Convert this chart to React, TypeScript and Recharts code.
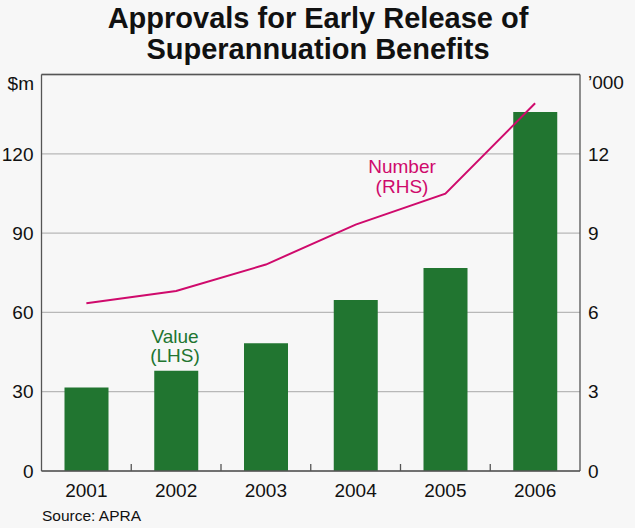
import { ComposedChart, Bar, Line, XAxis, YAxis, CartesianGrid, ReferenceLine } from "recharts";

const years = ["2001", "2002", "2003", "2004", "2005", "2006"];
const valueLhs = [31.6, 37.9, 48.3, 64.7, 76.8, 135.8]; // $m
const numberRhs = [6.35, 6.81, 7.81, 9.32, 10.49, 13.91]; // '000
const leftTicks = [0, 30, 60, 90, 120];
const rightTicks = [0, 3, 6, 9, 12];

const W = 635;
const H = 528;
const LEFT_W = 41.5;
const RIGHT_W = 55;
const PLOT_W = W - LEFT_W - RIGHT_W;
const GREEN = "#217530";
const PINK = "#cf0a6c";
const FONT = "Arial, 'Liberation Sans', Helvetica, sans-serif";

const data = years.map((year, i) => ({ year, value: valueLhs[i], number: numberRhs[i] }));

function YearTick(props: any) {
  const { x, y, payload, index } = props;
  const half = PLOT_W / years.length / 2;
  return (
    <g>
      {index < years.length - 1 && (
        <line x1={x + half} x2={x + half} y1={y} y2={y - 7} stroke="#555" strokeWidth={1.3} />
      )}
      <text x={x} y={y + 26} textAnchor="middle" fontSize={19} fontFamily={FONT} fill="#111">
        {payload.value}
      </text>
    </g>
  );
}

export default function App() {
  return (
    <div style={{ position: "absolute", left: 0, top: 0, width: W, height: H, background: "#f7f7f7" }}>
      <ComposedChart
        width={W}
        height={H}
        data={data}
        margin={{ top: 74.5, right: 0, bottom: 0, left: 0 }}
        barCategoryGap={0}
      >
        <CartesianGrid vertical={false} stroke="#b8b8b8" strokeWidth={1.3} yAxisId="left" />
        <XAxis
          dataKey="year"
          height={57}
          tickLine={false}
          tickSize={0}
          tickMargin={0}
          stroke="#555"
          strokeWidth={1.3}
          tick={<YearTick />}
          interval={0}
        />
        <YAxis
          yAxisId="left"
          width={LEFT_W}
          domain={[0, 150]}
          ticks={leftTicks}
          tickLine={false}
          tickSize={0}
          tickMargin={8}
          stroke="#555"
          strokeWidth={1.3}
          tick={{ fontSize: 19, fontFamily: FONT, fill: "#111" }}
        />
        <YAxis
          yAxisId="right"
          orientation="right"
          width={RIGHT_W}
          domain={[0, 15]}
          ticks={rightTicks}
          tickLine={false}
          tickSize={0}
          tickMargin={8}
          stroke="#555"
          strokeWidth={1.3}
          tick={{ fontSize: 19, fontFamily: FONT, fill: "#111", textAnchor: "start" }}
        />
        <ReferenceLine yAxisId="left" y={150} stroke="#555" strokeWidth={1.3} />
        <Bar yAxisId="left" dataKey="value" fill={GREEN} barSize={44} isAnimationActive={false} />
        <Line
          yAxisId="right"
          dataKey="number"
          stroke={PINK}
          strokeWidth={2}
          dot={false}
          type="linear"
          isAnimationActive={false}
        />
      </ComposedChart>
      <svg
        width={W}
        height={H}
        style={{ position: "absolute", left: 0, top: 0, pointerEvents: "none" }}
        fontFamily={FONT}
      >
        <text x={318} y={27.5} textAnchor="middle" fontSize={29} fontWeight="bold" fill="#111">
          Approvals for Early Release of
        </text>
        <text x={318} y={59} textAnchor="middle" fontSize={29} fontWeight="bold" fill="#111">
          Superannuation Benefits
        </text>
        <text x={34} y={90} textAnchor="end" fontSize={19} fill="#111">$m</text>
        <text x={588} y={89} textAnchor="start" fontSize={19} fill="#111">’000</text>
        <text x={175} y={342.5} textAnchor="middle" fontSize={19} fill={GREEN}>Value</text>
        <text x={175} y={361.5} textAnchor="middle" fontSize={19} fill={GREEN}>(LHS)</text>
        <text x={402} y={173} textAnchor="middle" fontSize={19} fill={PINK}>Number</text>
        <text x={402} y={192.5} textAnchor="middle" fontSize={19} fill={PINK}>(RHS)</text>
        <text x={42} y={521} textAnchor="start" fontSize={15.5} fill="#111">Source: APRA</text>
      </svg>
    </div>
  );
}
